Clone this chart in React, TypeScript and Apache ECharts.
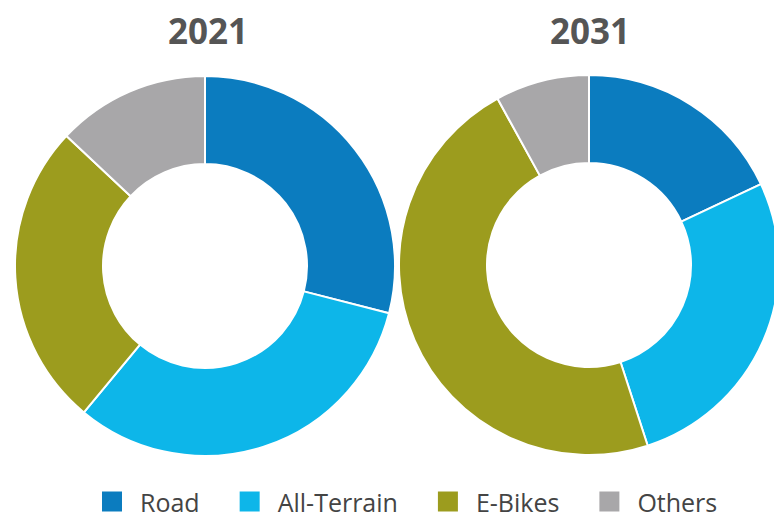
import React, { useEffect, useRef } from "react";
import * as echarts from "echarts";

const categories = ["Road", "All-Terrain", "E-Bikes", "Others"];
const years = ["2021", "2031"];
const values2021 = [29, 32, 26, 13];
const values2031 = [18, 27, 47, 8];
const colors = ["#0b7cbf", "#0db6e9", "#9c9c1e", "#a8a7a9"];

export default function App() {
  const ref = useRef<HTMLDivElement>(null);
  useEffect(() => {
    if (!ref.current) return;
    const chart = echarts.init(ref.current, null, { renderer: "svg" });
    const mk = (vals: number[]) => categories.map((c, i) => ({ name: c, value: vals[i] }));
    const pieBase = {
      type: "pie",
      radius: [102, 190],
      startAngle: 90,
      clockwise: true,
      label: { show: false },
      labelLine: { show: false },
      itemStyle: { borderColor: "#ffffff", borderWidth: 2 },
      emphasis: { disabled: true },
    };
    const titleStyle = { fontSize: 35, fontWeight: "bold", color: "#555555", fontFamily: "Open Sans" };
    chart.setOption({
      animation: false,
      backgroundColor: "#ffffff",
      color: colors,
      title: [
        { text: years[0], left: 203, top: 8, textAlign: "center", textStyle: titleStyle },
        { text: years[1], left: 585, top: 8, textAlign: "center", textStyle: titleStyle },
      ],
      legend: {
        data: categories,
        left: 95,
        top: 484,
        icon: "rect",
        itemWidth: 22,
        itemHeight: 22,
        itemGap: 38,
        selectedMode: false,
        textStyle: {
          fontSize: 25,
          color: "#444444",
          fontFamily: "Open Sans",
          padding: [0, 0, 0, 12],
        },
      },
      series: [
        { ...pieBase, name: years[0], center: [205, 266], data: mk(values2021) },
        { ...pieBase, name: years[1], center: [589, 265], data: mk(values2031) },
      ],
    });
    return () => chart.dispose();
  }, []);
  return (
    <div
      ref={ref}
      style={{ position: "fixed", left: 0, top: 0, width: 774, height: 519 }}
    />
  );
}
